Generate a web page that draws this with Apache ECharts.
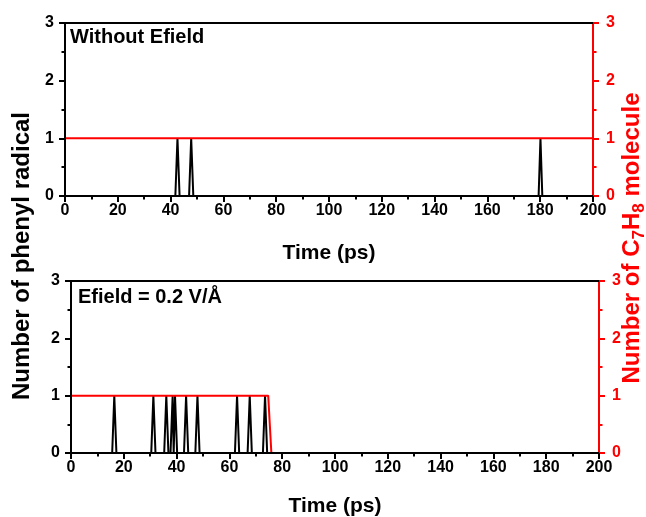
<!DOCTYPE html>
<html>
<head>
<meta charset="utf-8">
<script src="https://cdn.jsdelivr.net/npm/echarts@6/dist/echarts.min.js"></script>
<style>html,body{margin:0;padding:0;background:#fff}#c{width:646px;height:517px}</style>
</head>
<body>
<div id="c"></div>
<script>
// Top panel (Without Efield)
var topPhenylTime  = [0, 41.8, 42.6, 43.4, 47.0, 47.8, 48.6, 179.4, 180.1, 180.8, 200];
var topPhenylValue = [0, 0,    1,    0,    0,    1,    0,    0,     1,     0,     0];
var topC7H8Time  = [0, 200];
var topC7H8Value = [1, 1];
// Bottom panel (Efield = 0.2 V/Å)
var botPhenylTime  = [0, 15.6, 16.4, 17.2, 30.4, 31.2, 32.0, 35.3, 36.1, 36.9, 37.7, 38.5, 38.9, 39.4, 40.2,
                      42.8, 43.6, 44.4, 47.1, 47.9, 48.7, 62.1, 62.9, 63.7, 66.9, 67.7, 68.5, 72.7, 73.5, 74.3, 200];
var botPhenylValue = [0, 0, 1, 0, 0, 1, 0, 0, 1, 0, 0, 1, 0, 1, 0,
                      0, 1, 0, 0, 1, 0, 0, 1, 0, 0, 1, 0, 0, 1, 0, 0];
var botC7H8Time  = [0, 74.7, 75.9, 200];
var botC7H8Value = [1, 1, 0, 0];
var xTicks = [0, 20, 40, 60, 80, 100, 120, 140, 160, 180, 200];
var yTicks = [0, 1, 2, 3];

function pairs(t, v) { return t.map(function (x, i) { return [x, v[i]]; }); }

var FONT = '"Liberation Sans", Arial, sans-serif';
var RED = '#ff0000';

function xAxisBottom(gi, gap) {
  return {
    type: 'value', gridIndex: gi, min: xTicks[0], max: xTicks[xTicks.length - 1], interval: 20,
    position: 'bottom', z: 5,
    name: 'Time (ps)', nameLocation: 'middle', nameGap: gap,
    nameTextStyle: { fontFamily: FONT, fontWeight: 'bold', fontSize: 21, color: '#000' },
    axisLine: { show: true, onZero: false, lineStyle: { color: '#000', width: 2 } },
    axisTick: { show: true, inside: false, length: 6, lineStyle: { color: '#000', width: 2 } },
    minorTick: { show: true, splitNumber: 2, length: 3.5, lineStyle: { color: '#000', width: 2 } },
    axisLabel: { fontFamily: FONT, fontWeight: 'bold', fontSize: 16, color: '#000', margin: 7 },
    splitLine: { show: false }
  };
}
function xAxisTop(gi) {
  return {
    type: 'value', gridIndex: gi, min: 0, max: 200, position: 'top', z: 5,
    axisLine: { show: true, onZero: false, lineStyle: { color: '#000', width: 2 } },
    axisTick: { show: false }, axisLabel: { show: false }, splitLine: { show: false }
  };
}
function yAxisLeft(gi) {
  return {
    type: 'value', gridIndex: gi, min: yTicks[0], max: yTicks[yTicks.length - 1], interval: 1,
    position: 'left', z: 5,
    axisLine: { show: true, onZero: false, lineStyle: { color: '#000', width: 2 } },
    axisTick: { show: true, inside: false, length: 6, lineStyle: { color: '#000', width: 2 } },
    minorTick: { show: true, splitNumber: 2, length: 3.5, lineStyle: { color: '#000', width: 2 } },
    axisLabel: { fontFamily: FONT, fontWeight: 'bold', fontSize: 16, color: '#000', margin: 11 },
    splitLine: { show: false }
  };
}
function yAxisRight(gi) {
  return {
    type: 'value', gridIndex: gi, min: yTicks[0], max: yTicks[yTicks.length - 1], interval: 1,
    position: 'right', z: 5,
    axisLine: { show: true, onZero: false, lineStyle: { color: RED, width: 2 } },
    axisTick: { show: true, inside: false, length: 6, lineStyle: { color: RED, width: 2 } },
    minorTick: { show: true, splitNumber: 2, length: 3.5, lineStyle: { color: RED, width: 2 } },
    axisLabel: { fontFamily: FONT, fontWeight: 'bold', fontSize: 16, color: RED, margin: 13 },
    splitLine: { show: false }
  };
}

var chart = echarts.init(document.getElementById('c'), null, { renderer: 'canvas' });
chart.setOption({
  animation: false,
  backgroundColor: '#fff',
  grid: [
    { left: 65, top: 23, width: 528, height: 173, containLabel: false, outerBoundsMode: 'none' },
    { left: 71, top: 281, width: 528, height: 172, containLabel: false, outerBoundsMode: 'none' }
  ],
  xAxis: [xAxisBottom(0, 47), xAxisTop(0), xAxisBottom(1, 43), xAxisTop(1)],
  yAxis: [yAxisLeft(0), yAxisRight(0), yAxisLeft(1), yAxisRight(1)],
  series: [
    { type: 'line', xAxisIndex: 0, yAxisIndex: 0, data: pairs(topPhenylTime, topPhenylValue),
      showSymbol: false, lineStyle: { color: '#000', width: 2 }, z: 2 },
    { type: 'line', xAxisIndex: 0, yAxisIndex: 1, data: pairs(topC7H8Time, topC7H8Value),
      showSymbol: false, lineStyle: { color: RED, width: 2 }, z: 3 },
    { type: 'line', xAxisIndex: 2, yAxisIndex: 2, data: pairs(botPhenylTime, botPhenylValue),
      showSymbol: false, lineStyle: { color: '#000', width: 2 }, z: 2 },
    { type: 'line', xAxisIndex: 2, yAxisIndex: 3, data: pairs(botC7H8Time, botC7H8Value),
      showSymbol: false, lineStyle: { color: RED, width: 2 }, z: 3 }
  ],
  graphic: [
    { type: 'text', left: 70, top: 27, style: { text: 'Without Efield', font: 'bold 20px ' + FONT, fill: '#000' } },
    { type: 'text', left: 78, top: 287, style: { text: 'Efield = 0.2 V/Å', font: 'bold 20px ' + FONT, fill: '#000' } },
    { type: 'text', x: 22, y: 256, rotation: Math.PI / 2,
      style: { text: 'Number of phenyl radical', font: 'bold 24px ' + FONT, fill: '#000', align: 'center', verticalAlign: 'middle' } },
    { type: 'text', x: 632, y: 238, rotation: Math.PI / 2,
      style: {
        text: '{a|Number of C}{s|7}{a|H}{s|8}{a| molecule}',
        align: 'center', verticalAlign: 'middle', fill: RED,
        rich: {
          a: { font: 'bold 24px ' + FONT, fill: RED, lineHeight: 32, verticalAlign: 'middle' },
          s: { font: 'bold 17px ' + FONT, fill: RED, lineHeight: 32, verticalAlign: 'bottom', padding: [10, 0, 0, 0] }
        }
      } }
  ]
});
</script>
</body>
</html>
